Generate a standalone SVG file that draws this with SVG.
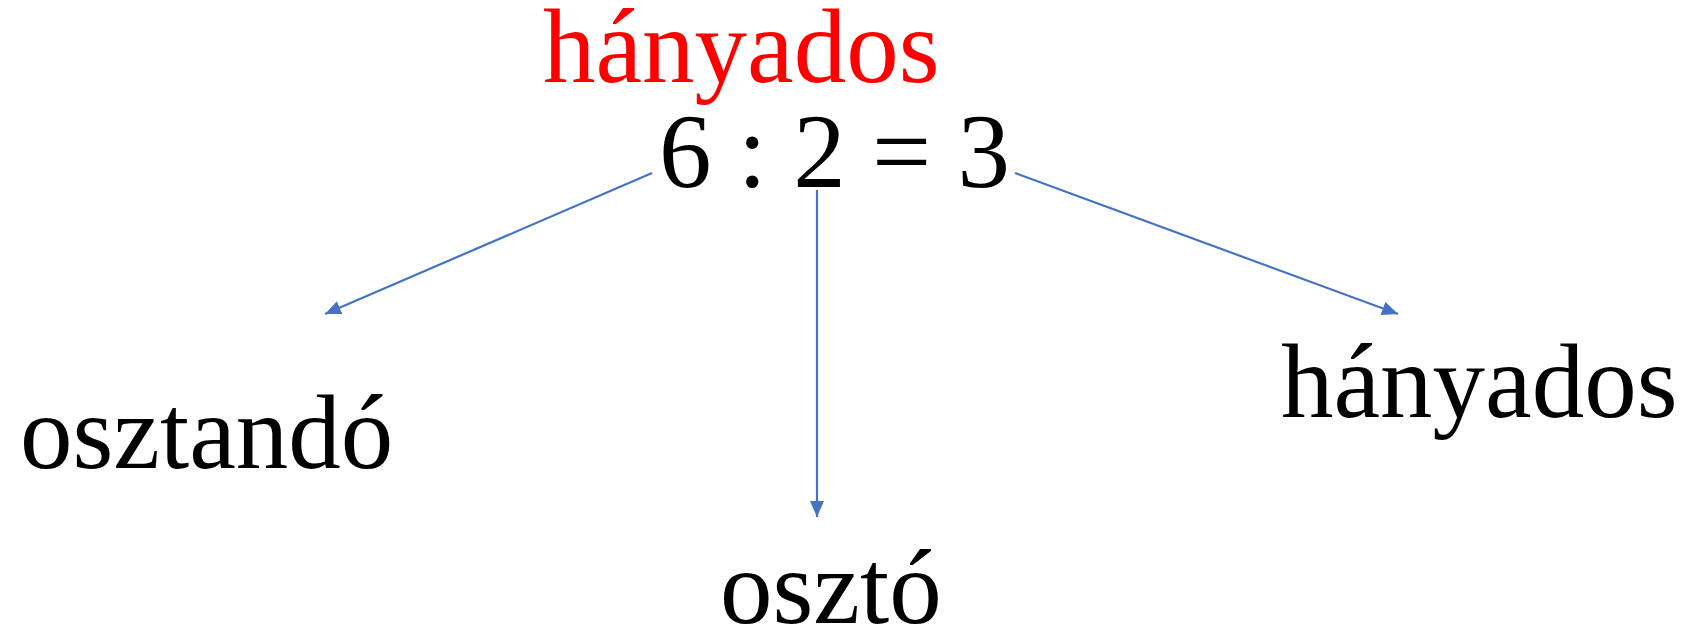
<svg xmlns="http://www.w3.org/2000/svg" width="1696" height="633" viewBox="0 0 1696 633">
<style>
text{font-family:"Liberation Serif","Times New Roman",serif;font-size:105px;fill:#000}
.red{fill:#ff0000}
.conn{stroke:#4472C4;stroke-width:2.2;fill:none}
</style>
<defs>
<marker id="arr" markerUnits="userSpaceOnUse" markerWidth="17" markerHeight="14" refX="16" refY="7" orient="auto">
<path d="M0,0 L16,7 L0,14 z" fill="#4472C4"/>
</marker>
</defs>
<rect width="1696" height="633" fill="#fff"/>
<g id="title"><text class="red" x="543" y="82">hányados</text></g>
<g id="equation"><text x="659" y="187">6 : 2 = 3</text></g>
<g id="osztando"><text x="20" y="468">osztandó</text></g>
<g id="oszto"><text x="720" y="623">osztó</text></g>
<g id="hanyados"><text x="1281" y="417">hányados</text></g>
<g id="connectors">
<line class="conn" x1="652" y1="173" x2="325" y2="314" marker-end="url(#arr)"/>
<line class="conn" x1="817" y1="190" x2="817" y2="517" marker-end="url(#arr)"/>
<line class="conn" x1="1015" y1="173" x2="1398" y2="314" marker-end="url(#arr)"/>
</g>
</svg>
